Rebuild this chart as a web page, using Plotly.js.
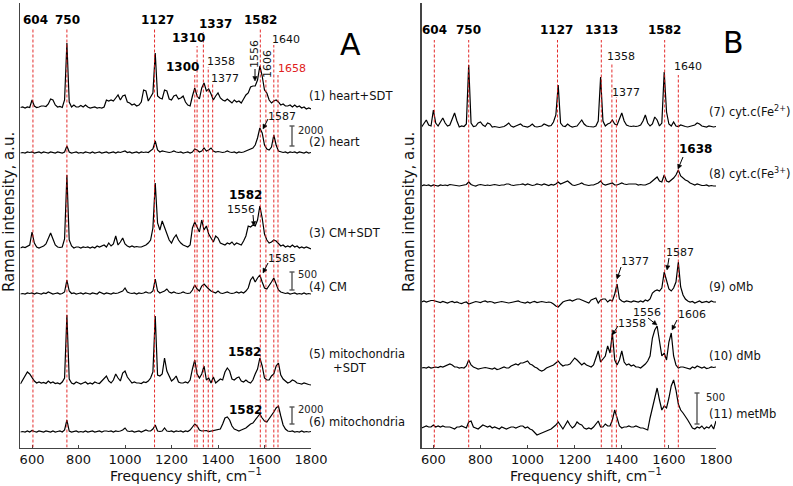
<!DOCTYPE html>
<html>
<head>
<meta charset="utf-8">
<script src="https://cdn.plot.ly/plotly-3.0.1.min.js"></script>
<style>html,body{margin:0;padding:0;background:#fff;}#chart{width:793px;height:486px;}</style>
</head>
<body>
<div id="chart"></div>
<script>
// ---------------- DATA (Raman shift grid, cm-1) ----------------
const wavenumber = [550,560,570,580,590,600,610,620,630,640,
 650,660,670,680,690,700,710,720,730,740,
 750,760,770,780,790,800,810,820,830,840,
 850,860,870,880,890,900,910,920,930,940,
 950,960,970,980,990,1000,1010,1020,1030,1040,
 1050,1060,1070,1080,1090,1100,1110,1120,1130,1140,
 1150,1160,1170,1180,1190,1200,1210,1220,1230,1240,
 1250,1260,1270,1280,1290,1300,1310,1320,1330,1340,
 1350,1360,1370,1380,1390,1400,1410,1420,1430,1440,
 1450,1460,1470,1480,1490,1500,1510,1520,1530,1540,
 1550,1560,1570,1580,1590,1600,1610,1620,1630,1640,
 1650,1660,1670,1680,1690,1700,1710,1720,1730,1740,
 1750,1760,1770,1780,1790,1800];

// Panel A spectra (relative intensity, a.u.)
const heartSDT = [0.5,1,0,1,0.5,8,2,0.5,1,2, 2,1.5,4,9,8,3,1,1.5,0.5,8, 65,6,1,3,1,1,2.5,1,3,1,
 0,0.5,1,0,0.5,0,1,8,7,8, 7,10,13,8,12,13,6,5,3,4, 2,3,6,18,17,7,11,15,55,12,
 10,9,18,17,9,8,12,13,9,10, 12,6,3,2,12,20,12,9,20,25, 17,19,14,8,12,15,10,8,7,9,
 7,5,8,6,7,5,9,13,15,21, 22,22,28,42,32,18,15,8,5,7, 8,6,3,4,2,2,3,1,3,1, 2,0,1,-1,0,-1];
const heart = [0,0.5,0,1,0.5,1,0,0.5,1,0, 1,0.5,0,1,0.5,0,1,0.5,0,1, 7,1,0,0.5,1,0,0.5,0,1,0.5,
 0,1,0,0.5,1,0,0.5,1,0,0.5, 1,0,1,0.5,1,2,0.5,1,0,0.5, 1,0,1,0.5,1,0.5,2,4,12,3,
 1,2,1.5,1,0.5,1,2,1,0.5,1, 0,0.5,1,0,1,4,3,1,2,5, 2,3,5,2,1,1.5,1,0.5,1,2,
 1,0.5,1,0,1,0.5,1,2,3,4, 5,8,15,25,20,8,4,3,6,18, 8,2,1,0.5,1,0,1,0.5,1,0, 1,0.5,0,1,0,0.5];
const cmSDT = [0,1,0.5,2,3,16,5,1,0,1, 2,4,10,15,9,3,1,0.5,1,9, 73,8,2,0,1,1,0,1,0.5,1,
 0,1,0,2,1,2,3,1,5,2, 4,12,3,6,10,4,2,1,2,1, 1.5,1,1,2,3,5,8,20,65,25,
 18,27,20,13,8,5,10,13,8,5, 3,2,1,3,20,26,20,16,28,18, 22,14,10,6,12,10,5,4,3,5,
 4,6,3,5,4,3,7,12,22,21, 23,22,28,42,30,14,8,5,6,8, 7,4,2,3,1,2,1,3,1,2, 0,1,0,1,0,-1];
const cm = [0,0.5,0,1,0.5,1,0,1,0.5,0, 1,0.5,2,1,0,0.5,1,0,0.5,2, 14,3,0.5,1,0,0.5,1,0,1,0.5,
 0,1,0.5,0,2,1,0,1,0.5,0, 1,0.5,1,2,3,6,2,1,0.5,1, 0,1,0.5,1,2,1,1,3,15,3,
 1,2,3,5,2,1,2,1,0.5,1, 2,1,0.5,1,4,9,5,3,8,10, 7,5,3,2,1,3,1,0.5,1,2,
 1,0.5,1,2,1,2,1,3,6,14, 17,12,16,19,12,6,5,8,12,16, 10,4,2,1,0.5,1,0,0.5,1,0, 0.5,0,1,0,0.5,0];
const mitoSDT = [0,4,8,12,10,6,3,1,2,1, 1.5,0.5,3,1,2,0.5,1,0,2,6, 69,5,1,0,2,1,0,1,2,0,
 1,0,2,1,0.5,3,6,8,3,1, 4,10,6,3,11,13,7,4,1,2, 1,1,0.5,2,1.5,3,6,12,68,9,
 8,10,26,13,8,3,5,8,2,1, 1,2,1,4,15,24,10,6,10,18, 4,6,1,7,1,3,5,4,12,16,
 13,5,4,6,7,3,2,4,2,1, 4,10,15,26,18,6,4,4,8,10, 18,21,9,5,3,1,2,4,3,1, 0.5,0,1,0,-0.5,-1];
const mito = [0,0.5,0,1,0,1.5,0.5,0,1,0.5, 0,1,0.5,0,1,0,0.5,1,0,2, 12,1,0,0.5,1,0,0.5,0,1,0,
 0.5,1,0,0.5,1,0,1,1,0.5,1, 0,1,0.5,1,2,4,1,0.5,1,0, 0.5,1,0,1,2,1,1,3,7,1,
 0.5,1,4,1,0.5,1,0,1,0.5,1, 0,1,0.5,2,5,8,6,2,1,1, 1.5,0.5,1,1,2,2,3,8,14,15,
 12,6,3,2,1,2,3,4,6,8, 9,12,16,18,14,11,10,13,16,20, 24,26,16,7,3,1,0.5,1,0,0.5, 0,1,0,0.5,0,0.5];

// Panel B spectra
const cytcFe2 = [0,3,7,2,1,17,4,1,5,9, 4,1,2,9,14,6,0,1,0.5,3, 62,4,0.5,1,4,5,2,0.5,4,3,
 0,0.5,0,-0.5,0,0.5,2,4,1,0, 1,2,3,1,0.5,0,1,3,0.5,0, 0.5,1,3,2,1,1.5,5,12,42,4,
 1,0.5,3,1,0,0.5,1,4,7,3, 1,0.5,0,0,1,6,50,6,1,3, 4,7,3,2,8,14,6,2,1,0.5,
 1,0.5,1,2,6,12,4,1,3,10, 7,1,4,55,15,3,1,5,1,0.5, 2,1,0.5,0,0.5,1,2,4,3,1, 0.5,0,1,0.5,0,0.5];
const cytcFe3 = [0,1,0.5,1,0,1,0.5,0,1,0.5, 1,0.5,1.5,1,1,0.5,0,0.5,1,1.5, 4,1.5,0.5,0,1,1.5,1,0.5,1,0.5,
 1,1.5,1,0.5,1,1,2,2,1,0.5, 1,1,1.5,2,1,2,1,0.5,1,2, 1.5,1,2,1,0.5,1.5,1,2,4,2,
 3,4,5,3,1,0.5,1,2,3,1.5, 1,0.5,1,1,2,3,5,2,1,1.5, 2,3,1,1,2,3,2,1.5,2,2,
 1.5,2,1,1.5,1,1,2,3,5,7, 9,5,4,11,5,4,6,8,11,16, 10,8,6,5,3,2,1,2,1,0.5, 0.5,1,0,0.5,0,0];
const oMb = [0,1,0,1,1.5,1.5,1,0,-0.5,0.5, 0,-1,0,0.5,-0.5,0,-1,-1.5,-0.5,0, -2,-1,0,0.5,0,-0.5,0.5,1,0,0.5,
 0,-1,-0.5,0,0.5,0,-0.5,-1,-0.5,0, 0.5,1,0,-0.5,-1,0,-1,0,0.5,-0.5, 0,0.5,0,-0.5,0,-0.5,-2,-4,-5,-2,
 0,1,1.5,2,1,2,3,3,2,1, 0,-1,2,3,4,-1,2,3,3,0, 2,1,8,18,3,1,0,1,0.5,0,
 1,0.5,0,1,0,2,1,3,9,11, 12,11,14,30,20,13,11,14,20,40, 15,7,3,1,0,0.5,-1,0,1,-0.5, 0,0.5,-0.5,1,0,0];
const dMb = [0,0.5,0,1,0,0.5,1,0.5,1.5,1, 2,3,4,3,1,1,0,0.5,0,2, 8,3,1,0,-1,-0.5,0,0.5,0,-0.5,
 -1,0,-1.5,-1,0,1,0,0,2,3, 4,3,5,5,6,7,4,3,1,0, -2,-3,-2,0,1,2,3,5,7,4,
 2,3,3,4,7,10,8,5,3,5, 3,2,1,3,10,17,6,9,12,22, 15,35,8,3,8,17,6,3,4,2,
 3,1,1,0,2,4,7,12,30,38, 42,25,12,15,8,26,35,12,3,0, 1,1,0.5,0,-1,1,0,2,1,0, 1,-0.5,0,1,0.5,1];
const metMb = [0,1,2,1,1,3,1,2,1,2, 1,1,1,0,-1,1,1,2,1,0, 6,7,1,0,-1,1,3,2,1,2,
 0,1,0,-1,1,0,-1,0,1,1, 0,1,2,2,0,1,-1,-2,-5,-7, -6,-5,-4,-3,-2,-1,1,3,6,2,
 -1,3,7,3,0,2,6,4,3,0, -1,0,-1,1,4,7,1,1,4,2, 2,8,18,9,2,0,1,1,2,1,
 1,2,1,0,0,-1,-2,10,20,28, 40,28,18,22,20,30,42,48,38,24, 18,15,12,8,4,0,-1,1,0,2, -1,1,0,3,-1,7];

// Marked band positions (cm-1)
const bandsA = [604,750,1127,1300,1310,1337,1358,1377,1582,1606,1640,1658];
const bandsB = [604,750,1127,1313,1358,1377,1582,1640];

// Series labels
const namesA = ['(1) heart+SDT','(2) heart','(3) CM+SDT','(4) CM','(5) mitochondria','(6) mitochondria'];
const namesB = ['(7) cyt.c(Fe<sup>2+</sup>)','(8) cyt.c(Fe<sup>3+</sup>)','(9) oMb','(10) dMb','(11) metMb'];

// ---------------- LAYOUT / STYLE ----------------
const W = 793, H = 486;
const PX = x => x / W, PY = y => 1 - y / H;
const YB = 447.5;               // pixel row of the x axis line
const toV = py => YB - py;      // y-axis value for a pixel row (1 unit = 1 px)
const FONT = 'DejaVu Sans, Verdana, sans-serif';

// stacking (vertical offset of each spectrum, in y-axis units)
const seriesA = [
  {y: heartSDT, base: toV(108)}, {y: heart, base: toV(153)}, {y: cmSDT, base: toV(248)},
  {y: cm, base: toV(294)}, {y: mitoSDT, base: toV(384)}, {y: mito, base: toV(432)}];
const seriesB = [
  {y: cytcFe2, base: toV(127)}, {y: cytcFe3, base: toV(186)}, {y: oMb, base: toV(302)},
  {y: dMb, base: toV(368)}, {y: metMb, base: toV(428)}];

const traces = [];
seriesA.forEach((s, i) => traces.push({x: wavenumber, y: s.y.map(v => v + s.base), type: 'scatter', mode: 'lines',
  line: {color: '#000', width: 1.2}, xaxis: 'x', yaxis: 'y', hoverinfo: 'skip', name: namesA[i]}));
seriesB.forEach((s, i) => traces.push({x: wavenumber, y: s.y.map(v => v + s.base), type: 'scatter', mode: 'lines',
  line: {color: '#000', width: 1.2}, xaxis: 'x2', yaxis: 'y2', hoverinfo: 'skip', name: namesB[i]}));

// top pixel row of each dashed band line
const topA = {604:29,750:29,1127:29,1300:75,1310:46,1337:32,1358:67,1377:83,1582:29,1606:80,1640:45,1658:75};
const topB = {604:40,750:40,1127:40,1313:40,1358:63,1377:97,1582:40,1640:75};

const shapes = [];
const red = {color: 'rgba(225,20,20,0.9)', width: 1, dash: '3px,2px'};
bandsA.forEach(b => shapes.push({type:'line', xref:'x', yref:'y', x0:b, x1:b, y0:0, y1:toV(topA[b]), line: red}));
bandsB.forEach(b => shapes.push({type:'line', xref:'x2', yref:'y2', x0:b, x1:b, y0:0, y1:toV(topB[b]), line: red}));

// scale bars
const bar = (x, y0, y1) => {
  const ln = {color: '#555', width: 1.4};
  shapes.push({type:'line', xref:'paper', yref:'paper', x0:PX(x), x1:PX(x), y0:PY(y0), y1:PY(y1), line: ln});
  shapes.push({type:'line', xref:'paper', yref:'paper', x0:PX(x-2.5), x1:PX(x+2.5), y0:PY(y0), y1:PY(y0), line: ln});
  shapes.push({type:'line', xref:'paper', yref:'paper', x0:PX(x-2.5), x1:PX(x+2.5), y0:PY(y1), y1:PY(y1), line: ln});
};
bar(292, 126, 146); bar(292, 272, 290); bar(292, 407, 424); bar(697, 393, 424);

// arrows (pointer from a label to a band), drawn as a line plus a small filled head
const ARW = (x0, y0, x1, y1) => {
  const dx = x1 - x0, dy = y1 - y0, len = Math.hypot(dx, dy), ux = dx / len, uy = dy / len;
  const hl = 4.5, hw = 2.2;
  const bx = x1 - ux * hl, by = y1 - uy * hl;
  shapes.push({type:'line', xref:'paper', yref:'paper', x0:PX(x0), y0:PY(y0), x1:PX(bx), y1:PY(by),
    line:{color:'#000', width:1}});
  const p1 = [bx - uy * hw, by + ux * hw], p2 = [bx + uy * hw, by - ux * hw];
  shapes.push({type:'path', xref:'paper', yref:'paper',
    path:`M${PX(x1)},${PY(y1)} L${PX(p1[0])},${PY(p1[1])} L${PX(p2[0])},${PY(p2[1])} Z`,
    fillcolor:'#000', line:{color:'#000', width:0.5}});
};

const ann = [];
const T = (text, x, y, o = {}) => ann.push(Object.assign({text, x: PX(x), y: PY(y), xref:'paper', yref:'paper',
  showarrow:false, xanchor:'center', yanchor:'middle', font:{family:FONT, size:11, color:'#111'}}, o));
const B12 = {font:{family:FONT, size:12, color:'#000'}};

// Panel A peak labels
T('<b>604</b>', 35, 20, B12); T('<b>750</b>', 67, 20, B12); T('<b>1127</b>', 157, 20, B12);
T('<b>1310</b>', 188, 38, B12); T('<b>1337</b>', 215, 24, B12); T('<b>1300</b>', 182, 67, B12);
T('1358', 221, 61); T('1377', 225, 78); T('<b>1582</b>', 260, 20, B12);
T('1556', 254, 54, {textangle:-90}); T('1606', 267, 64, {textangle:-90});
T('1640', 286, 40); T('1658', 292, 68, {font:{family:FONT, size:11, color:'#e02020'}});
ARW(255, 69, 255, 81);
T('1587', 282, 117); ARW(268, 119, 263, 129);
T('<b>1582</b>', 246, 195, B12); T('1556', 241, 209); ARW(253, 215, 254, 226);
T('1585', 282, 258); ARW(268, 263, 263, 273);
T('<b>1582</b>', 244, 352, B12); T('<b>1582</b>', 245, 410, B12);
T('A', 350, 44, {font:{family:FONT, size:30, color:'#000'}});

// Panel A series labels
const L = (text, x, y) => T(text, x, y, {xanchor:'left', font:{family:FONT, size:11.5, color:'#111'}});
L(namesA[0], 307, 96); L(namesA[1], 307, 142); L(namesA[2], 307, 233); L(namesA[3], 307, 287);
L(namesA[4], 307, 354); T('+SDT', 350, 368, {font:{family:FONT, size:11.5, color:'#111'}}); L(namesA[5], 307, 422);
const S = (text, x, y) => T(text, x, y, {xanchor:'left', font:{family:FONT, size:10, color:'#222'}});
S('2000', 296, 130); S('500', 296, 274); S('2000', 296, 409);

// Panel B peak labels
T('<b>604</b>', 434, 30, B12); T('<b>750</b>', 468, 30, B12); T('<b>1127</b>', 556, 30, B12);
T('<b>1313</b>', 601, 30, B12); T('<b>1582</b>', 664, 30, B12);
T('1358', 621, 56); T('1377', 626, 92); T('1640', 688, 67);
T('B', 733, 43, {font:{family:FONT, size:30, color:'#000'}});
T('<b>1638</b>', 695, 149, B12); ARW(683, 157, 678, 169);
T('1377', 635, 261); ARW(621, 267, 617, 279);
T('1587', 680, 252); ARW(669, 258, 667, 270);
T('1556', 647, 312); ARW(648, 318, 657, 325);
T('1358', 632, 323); ARW(618, 326, 612, 335);
T('1606', 692, 314); ARW(677, 320, 672, 330);

// Panel B series labels
L(namesB[0], 707, 111); L(namesB[1], 707, 173); L(namesB[2], 707, 287); L(namesB[3], 707, 356); L(namesB[4], 707, 414);
S('500', 704, 397);

// Axis titles
const YT = (x) => T('Raman intensity, a.u.', x, 212, {textangle:-90, font:{family:FONT, size:15, color:'#111'}});
YT(9); YT(409);
T('Frequency shift, cm<sup>−1</sup>', 186, 475, {font:{family:FONT, size:14, color:'#111'}});
T('Frequency shift, cm<sup>−1</sup>', 586, 475, {font:{family:FONT, size:14, color:'#111'}});

const xTicks = [600,800,1000,1200,1400,1600,1800];
const xax = (d, anchor) => ({domain: d, range:[550,1800], anchor, showline:true, linecolor:'#444', linewidth:1.3,
  ticks:'inside', ticklen:3, tickcolor:'#444', tickvals: xTicks, ticktext: xTicks.map(String),
  tickfont:{family:FONT, size:13, color:'#111'}, showgrid:false, zeroline:false, fixedrange:true});
const yax = (anchor) => ({domain:[1 - YB/H, 1 - 3/H], range:[0, YB - 3], anchor, showline:true, linecolor:'#444',
  linewidth:1.3, ticks:'', showticklabels:false, showgrid:false, zeroline:false, fixedrange:true});

const layout = {
  width: W, height: H, autosize:false, margin:{l:0, r:0, t:0, b:0, pad:0},
  paper_bgcolor:'#fff', plot_bgcolor:'rgba(0,0,0,0)', showlegend:false,
  font:{family:FONT},
  xaxis: xax([20.4/W, 311/W], 'y'), yaxis: yax('x'),
  xaxis2: xax([421.6/W, 716/W], 'y2'), yaxis2: yax('x2'),
  shapes, annotations: ann
};
Plotly.newPlot('chart', traces, layout, {staticPlot:true, displayModeBar:false});
</script>
</body>
</html>
